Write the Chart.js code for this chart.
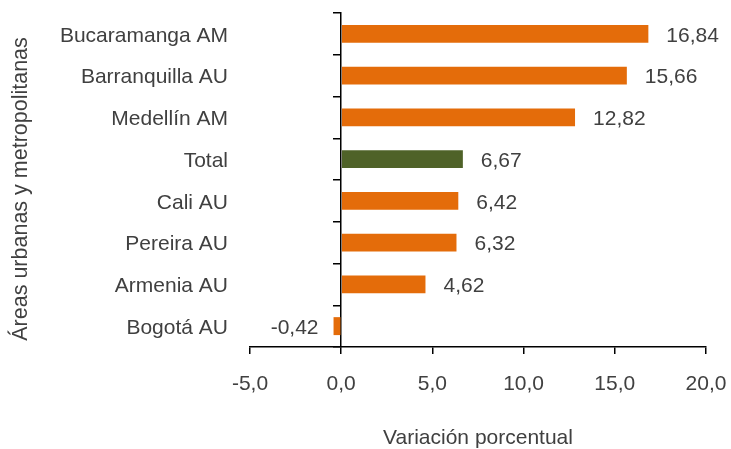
<!DOCTYPE html>
<html>
<head>
<meta charset="utf-8">
<script src="https://cdn.jsdelivr.net/npm/chart.js@4.4.0/dist/chart.umd.min.js"></script>
<style>
html,body{margin:0;padding:0;background:#fff;}
#wrap{width:731px;height:449px;position:relative;}
</style>
</head>
<body>
<div id="wrap"><canvas id="c" width="731" height="449"></canvas></div>
<script>
const categories = ["Bucaramanga AM","Barranquilla AU","Medellín AM","Total","Cali AU","Pereira AU","Armenia AU","Bogotá AU"];
const values = [16.84, 15.66, 12.82, 6.67, 6.42, 6.32, 4.62, -0.42];
const xTicks = [-5, 0, 5, 10, 15, 20];
const xTitle = "Variación porcentual";
const yTitle = "Áreas urbanas y metropolitanas";

const ORANGE = "#E46C0A";
const GREEN = "#4F6228";
const TEXT = "#404040";
const FONT = "'Liberation Sans', Arial, sans-serif";

const barColors = categories.map(c => c === "Total" ? GREEN : ORANGE);
const fmt = (v, d) => v.toFixed(d).replace('.', ',');

const valueLabels = {
  id: 'valueLabels',
  afterDatasetsDraw(chart) {
    const ctx = chart.ctx;
    const meta = chart.getDatasetMeta(0);
    ctx.save();
    ctx.font = "21px " + FONT;
    ctx.fillStyle = TEXT;
    ctx.textBaseline = 'middle';
    meta.data.forEach((el, i) => {
      const v = values[i];
      if (v >= 0) {
        ctx.textAlign = 'left';
        ctx.fillText(fmt(v, 2), el.x + 18, el.y + 2);
      } else {
        ctx.textAlign = 'right';
        ctx.fillText(fmt(v, 2), el.x - 15, el.y + 2);
      }
    });
    ctx.restore();
  }
};

new Chart(document.getElementById('c'), {
  type: 'bar',
  data: {
    labels: categories,
    datasets: [{
      data: values,
      backgroundColor: barColors,
      borderWidth: 0,
      categoryPercentage: 1,
      barPercentage: 0.43,
      yAxisID: 'y'
    }]
  },
  options: {
    indexAxis: 'y',
    responsive: false,
    animation: false,
    layout: { padding: { top: 13, right: 25, bottom: 0, left: 0 } },
    plugins: { legend: { display: false }, tooltip: { enabled: false } },
    scales: {
      x: {
        type: 'linear',
        min: -5, max: 20,
        afterBuildTicks: s => { s.ticks = xTicks.map(v => ({ value: v })); },
        afterFit: s => { s.height = 102; },
        grid: { drawOnChartArea: false, drawTicks: true, tickLength: 7, color: '#000', lineWidth: 1.5 },
        border: { display: true, color: '#000', width: 1.5 },
        ticks: { color: TEXT, font: { size: 21, family: FONT, lineHeight: '61px' }, padding: 0, maxRotation: 0,
                 callback: v => fmt(v, 1) },
        title: { display: true, text: xTitle, color: TEXT, font: { size: 21, family: FONT },
                 padding: { top: 0, bottom: -2 } }
      },
      y: {
        type: 'category',
        position: 'left',
        offset: true,
        afterFit: s => { s.width = 250; },
        grid: { display: false, drawTicks: true, tickLength: 22 },
        border: { display: false },
        ticks: { color: TEXT, font: { size: 21, family: FONT }, padding: 0, labelOffset: 2 },
        title: { display: true, text: yTitle + "   ", color: TEXT, font: { size: 21.5, family: FONT },
                 padding: { top: 8, bottom: 0 } }
      },
      y2: {
        type: 'category',
        axis: 'y',
        position: { x: 0 },
        offset: true,
        grid: { offset: true, drawOnChartArea: false, drawTicks: true, tickLength: 7, color: '#000', lineWidth: 1.5 },
        border: { display: true, color: '#000', width: 1.5 },
        ticks: { display: false }
      }
    }
  },
  plugins: [valueLabels]
});
</script>
</body>
</html>
